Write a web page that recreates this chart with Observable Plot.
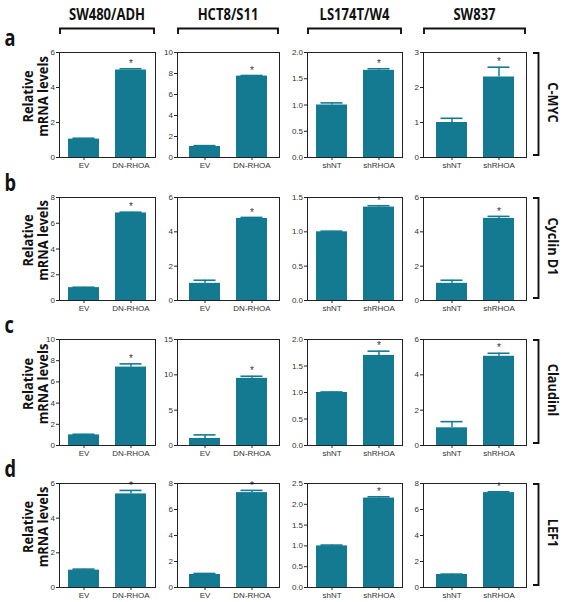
<!DOCTYPE html>
<html>
<head>
<meta charset="utf-8">
<script src="https://cdn.jsdelivr.net/npm/d3@7"></script>
<script src="https://cdn.jsdelivr.net/npm/@observablehq/plot@0.6"></script>
<style>
  html, body { margin: 0; padding: 0; background: #fff; }
  #root { position: relative; width: 564px; height: 602px; overflow: hidden; background: #fff; }
  .panel { position: absolute; }
  #overlay { position: absolute; left: 0; top: 0; }
</style>
</head>
<body>
<div id="root"></div>
<script>
// ---------------- data ----------------
const cellLines = ["SW480/ADH", "HCT8/S11", "LS174T/W4", "SW837"];
const genes = ["C-MYC", "Cyclin D1", "Claudinl", "LEF1"];
const rowLetters = ["a", "b", "c", "d"];
const groupsOverexpr = ["EV", "DN-RHOA"];
const groupsKnockdown = ["shNT", "shRHOA"];
const cellGroups = [groupsOverexpr, groupsOverexpr, groupsKnockdown, groupsKnockdown];

// means [control, treated] per cell line, one array per gene
const cmycMeans     = [[1.05, 5.0], [1.05, 7.75], [1.0, 1.66], [1.0, 2.3]];
const cmycErrors    = [[0.05, 0.07], [0.08, 0.06], [0.04, 0.03], [0.12, 0.28]];
const cyclinMeans   = [[1.0, 6.8], [1.0, 4.78], [1.0, 1.36], [1.0, 4.78]];
const cyclinErrors  = [[0.03, 0.06], [0.18, 0.06], [0.01, 0.02], [0.18, 0.12]];
const claudinMeans  = [[1.0, 7.4], [1.0, 9.5], [1.0, 1.7], [1.0, 5.05]];
const claudinErrors = [[0.06, 0.3], [0.5, 0.3], [0.01, 0.08], [0.35, 0.17]];
const lef1Means     = [[1.0, 5.4], [1.0, 7.3], [1.0, 2.15], [1.0, 7.3]];
const lef1Errors    = [[0.06, 0.2], [0.08, 0.17], [0.02, 0.03], [0.03, 0.06]];
const significant   = [false, true]; // "*" on treated group

// y-axis maxima and tick steps per gene row, per cell line
const yMax  = [[6, 10, 2, 3], [8, 6, 1.5, 6], [10, 15, 2, 6], [6, 8, 2.5, 8]];
const yStep = [[2, 2, 0.5, 1], [2, 2, 0.5, 2], [2, 5, 0.5, 2], [2, 2, 0.5, 2]];

const allMeans = [cmycMeans, cyclinMeans, claudinMeans, lef1Means];
const allErrors = [cmycErrors, cyclinErrors, claudinErrors, lef1Errors];

// ---------------- layout ----------------
const TEAL = "#137a92";
const colX = [[59, 155], [177, 279], [307, 402], [423, 526]];
const rowY = [[52, 157], [197, 300], [339, 445], [483, 587]];
const ML = 26, MR = 4, MT = 14, MB = 20;
const BAR_STEP = 47.5, PAD_INNER = 0.347;

const root = document.getElementById("root");

function makePanel(r, c) {
  const cats = cellGroups[c];
  const means = allMeans[r][c];
  const errs = allErrors[r][c];
  const data = cats.map((cat, i) => ({cat, v: means[i], e: errs[i], star: significant[i]}));
  const W = colX[c][1] - colX[c][0];
  const H = rowY[r][1] - rowY[r][0];
  const padOuter = (W / BAR_STEP - 2 + PAD_INNER) / 2;
  const step = yStep[r][c];
  const ticks = d3.range(0, yMax[r][c] + step / 2, step);
  const fmt = step < 1 ? d3.format(".1f") : d3.format("d");
  const chart = Plot.plot({
    width: W + ML + MR,
    height: H + MT + MB,
    marginLeft: ML, marginRight: MR, marginTop: MT, marginBottom: MB,
    x: {domain: cats, paddingInner: PAD_INNER, paddingOuter: padOuter, label: null},
    y: {domain: [0, yMax[r][c]], label: null},
    style: {fontFamily: "'Liberation Sans', Arial, sans-serif", fontSize: "8px", color: "#333", background: "transparent", overflow: "visible"},
    marks: [
      Plot.barY(data, {x: "cat", y: "v", fill: TEAL}),
      Plot.ruleX(data, {x: "cat", y1: "v", y2: d => d.v + d.e, stroke: TEAL, strokeWidth: 1.5}),
      Plot.tickY(data, {x: "cat", y: d => d.v + d.e, stroke: TEAL, strokeWidth: 1.6, insetLeft: 4.5, insetRight: 4.5}),
      Plot.text(data.filter(d => d.star), {x: "cat", y: d => d.v + d.e, text: () => "*", dy: -5, fontSize: 10, fill: "#333"}),
      Plot.frame({stroke: "#222", strokeWidth: 1}),
      Plot.axisY({ticks, tickSize: 3, tickPadding: 1.5, tickFormat: fmt, fontSize: 8, label: null, stroke: "#222"}),
      Plot.axisX({tickSize: 3, tickPadding: 2, fontSize: 8, label: null, stroke: "#222"})
    ]
  });
  const div = document.createElement("div");
  div.className = "panel";
  div.style.left = (colX[c][0] - ML) + "px";
  div.style.top = (rowY[r][0] - MT) + "px";
  div.appendChild(chart);
  root.appendChild(div);
}

for (let r = 0; r < 4; r++) for (let c = 0; c < 4; c++) makePanel(r, c);

// ---------------- annotations overlay ----------------
const svg = d3.select(root).append("svg")
  .attr("id", "overlay").attr("width", 564).attr("height", 602)
  .style("font-family", "'Open Sans', sans-serif");

// column headers with brackets
cellLines.forEach((name, c) => {
  const [x0, x1] = colX[c];
  const cx = (x0 + x1) / 2;
  svg.append("text").attr("transform", `translate(${cx},20) scale(0.815,1)`).attr("text-anchor", "middle")
    .attr("font-size", 16).attr("font-weight", 700).attr("fill", "#111").text(name);
  svg.append("path")
    .attr("d", `M${x0 + 1},34 V28.5 H${x1 - 1} V34`)
    .attr("fill", "none").attr("stroke", "#111").attr("stroke-width", 1.9);
});

// row letters, y labels, right brackets & gene labels
genes.forEach((gene, r) => {
  const [y0, y1] = rowY[r];
  const cy = (y0 + y1) / 2;
  svg.append("text").attr("transform", `translate(4.5,${y0 - 6}) scale(0.76,1)`)
    .attr("font-size", 24).attr("font-weight", 700).attr("fill", "#111").text(rowLetters[r]);
  const ly = cy - 8;
  svg.append("text").attr("transform", `translate(33,${ly}) rotate(-90) scale(0.92,1)`)
    .attr("text-anchor", "middle").attr("font-size", 14).attr("font-weight", 700).attr("fill", "#111").text("Relative");
  svg.append("text").attr("transform", `translate(47.5,${ly}) rotate(-90) scale(0.92,1)`)
    .attr("text-anchor", "middle").attr("font-size", 14).attr("font-weight", 700).attr("fill", "#111").text("mRNA levels");
  svg.append("path")
    .attr("d", `M533,${y0 + 1} H538.5 V${y1 - 2} H533`)
    .attr("fill", "none").attr("stroke", "#111").attr("stroke-width", 1.9);
  svg.append("text").attr("transform", `translate(548,${cy - 2}) rotate(90) scale(0.85,1)`)
    .attr("text-anchor", "middle").attr("font-size", 15).attr("font-weight", 700).attr("fill", "#111").text(gene);
});
</script>
</body>
</html>
